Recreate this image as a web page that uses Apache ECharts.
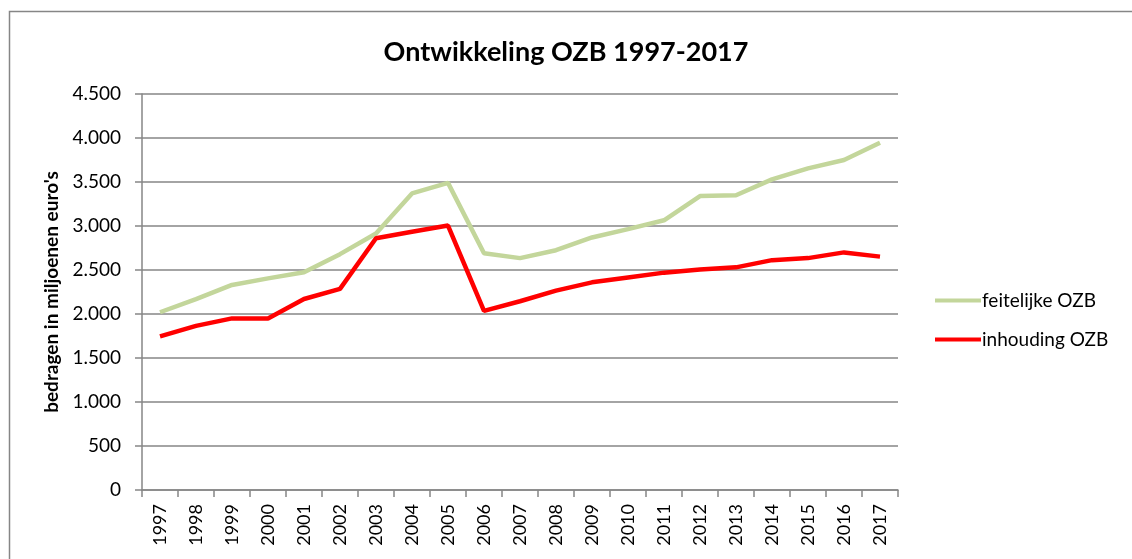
<!DOCTYPE html>
<html>
<head>
<meta charset="utf-8">
<style>
  html, body { margin: 0; padding: 0; background: #fff; }
  #chart { width: 1132px; height: 559px; }
</style>
<script src="https://cdn.jsdelivr.net/npm/echarts@6/dist/echarts.min.js"></script>
</head>
<body>
<div id="chart"></div>
<script>
const years = ['1997', '1998', '1999', '2000', '2001', '2002', '2003', '2004', '2005', '2006', '2007',
    '2008', '2009', '2010', '2011', '2012', '2013', '2014', '2015', '2016', '2017'];
const feitelijk = [2020, 2170, 2330, 2405, 2475, 2680, 2915, 3370, 3490, 2690, 2635,
    2725, 2870, 2965, 3065, 3340, 3350, 3530, 3655, 3750, 3945];
const inhouding = [1745, 1865, 1950, 1950, 2170, 2285, 2860, 2935, 3005, 2035, 2145,
    2265, 2360, 2415, 2470, 2505, 2530, 2612, 2635, 2700, 2652];

const font = 'Lato, "Open Sans", sans-serif';
const gridColor = '#868686';

const chart = echarts.init(document.getElementById('chart'));
chart.setOption({
    animation: false,
    textStyle: { fontFamily: font },
    graphic: [{
        type: 'rect',
        shape: { x: 9.5, y: 11.5, width: 1200, height: 600 },
        style: { fill: null, stroke: gridColor, lineWidth: 1.5 },
        silent: true
    }],
    title: {
        text: 'Ontwikkeling OZB 1997-2017',
        left: 'center',
        top: 34,
        textStyle: { fontFamily: font, fontSize: 27, fontWeight: 'bold', color: '#000' }
    },
    legend: {
        orient: 'vertical',
        left: 930,
        top: 286,
        itemWidth: 46,
        itemHeight: 4,
        itemGap: 20,
        textStyle: { fontFamily: font, fontSize: 19, color: '#000', padding: [0, 0, 0, -4] },
        data: [
            { name: 'feitelijke OZB', icon: 'rect' },
            { name: 'inhouding OZB', icon: 'rect' }
        ]
    },
    grid: { left: 142, right: 234, top: 94, bottom: 69 },
    xAxis: {
        type: 'category',
        data: years,
        boundaryGap: true,
        axisLine: { lineStyle: { color: gridColor, width: 1.5 } },
        axisTick: { show: true, length: 7, lineStyle: { color: gridColor, width: 1.5 } },
        axisLabel: { rotate: 90, color: '#000', fontSize: 18, margin: 14, fontFamily: font }
    },
    yAxis: {
        type: 'value',
        min: 0,
        max: 4500,
        interval: 500,
        name: "bedragen in miljoenen euro's",
        nameLocation: 'middle',
        nameGap: 80,
        nameTextStyle: { fontFamily: font, fontSize: 19, fontWeight: 'bold', color: '#000' },
        axisLine: { show: true, lineStyle: { color: gridColor, width: 1.5 } },
        axisTick: { show: true, length: 7, lineStyle: { color: gridColor, width: 1.5 } },
        splitLine: { lineStyle: { color: gridColor, width: 1.5 } },
        axisLabel: {
            color: '#000', fontSize: 19, margin: 21, fontFamily: font,
            formatter: v => String(v).replace(/\B(?=(\d{3})+(?!\d))/g, '.')
        }
    },
    series: [
        {
            name: 'feitelijke OZB',
            type: 'line',
            data: feitelijk,
            showSymbol: false,
            itemStyle: { color: '#C3D69B' },
            lineStyle: { color: '#C3D69B', width: 4.5 }
        },
        {
            name: 'inhouding OZB',
            type: 'line',
            data: inhouding,
            showSymbol: false,
            itemStyle: { color: '#FF0000' },
            lineStyle: { color: '#FF0000', width: 4.5 }
        }
    ]
});
</script>
</body>
</html>
